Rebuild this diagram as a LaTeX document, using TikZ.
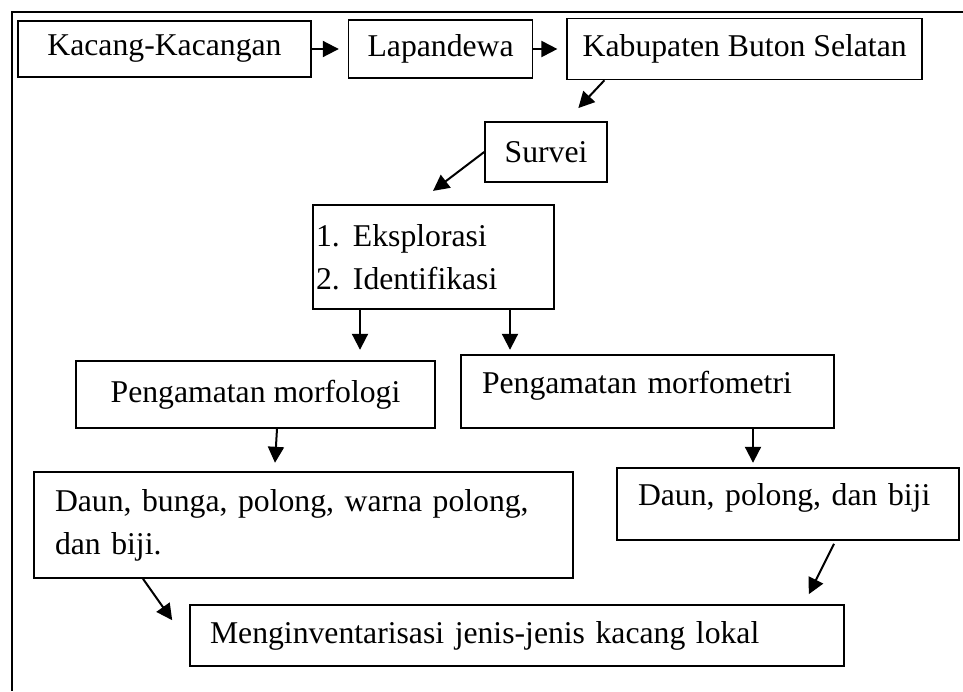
\documentclass[tikz,border=0pt]{standalone}
\usepackage{fontspec}
\setmainfont{Liberation Serif}
\usetikzlibrary{arrows.meta,positioning,calc}

\begin{document}
\begin{tikzpicture}[x=1pt, y=-1pt, >={Triangle[length=16pt,width=16pt]}, node distance=36pt, font=\fontsize{31.7}{43}\selectfont,
    box/.style={draw, line width=1.6pt, inner sep=0pt},
    lbox/.style={box, align=left, inner xsep=21pt},
    arr/.style={->, line width=2pt}]
      \useasboundingbox (0,0) rectangle (963,691);
      \draw[line width=1.6pt] (963,12) -- (12,12) -- (12,691);
      \node[box, minimum width=293pt, minimum height=56pt] (kacang) at (164.5,49) {Kacang-Kacangan};
      \node[box, minimum width=184pt, minimum height=58pt, right=36pt of kacang] (lapandewa) {Lapandewa};
      \node[box, minimum width=355pt, minimum height=61pt, right=33pt of lapandewa] (kabupaten) {Kabupaten Buton Selatan};
      \node[box, minimum width=122pt, minimum height=60pt] (survei) at (546,152) {Survei};
      \node[lbox, inner xsep=3pt, text width=235pt, minimum height=104pt] (eksplorasi) at (433.5,257) {\makebox[37pt][l]{1.}Eksplorasi\\\makebox[37pt][l]{2.}Identifikasi};
      \node[box, minimum width=359pt, minimum height=67pt] (morfologi) at (255.5,394.5) {Pengamatan morfologi};
      \node[lbox, text width=331pt, minimum height=73pt, text depth=19pt] (morfometri) at (647.5,391.5) {Pengamatan morfometri};
      \node[lbox, text width=497pt, minimum height=106pt] (daunA) at (303.5,525) {Daun, bunga, polong, warna polong,\\dan biji.};
      \node[lbox, text width=300pt, minimum height=72pt, text depth=19pt] (daunB) at (788,504) {Daun, polong, dan biji};
      \node[lbox, inner xsep=20pt, text width=614pt, minimum height=61pt] (inventaris) at (517,635.5) {Menginventarisasi jenis-jenis kacang lokal};
      \draw[arr, shorten >=9pt] (kacang) -- (lapandewa);
      \draw[arr, shorten >=9pt] (lapandewa) -- (kabupaten);
      \draw[arr, shorten >=18pt] ($(kabupaten.south west)+(38,0)$) -- ($(survei.north)+(20,0)$);
      \draw[arr, shorten >=22pt] (survei.west) -- ($(eksplorasi.north)+(-18,0)$);
      \draw[arr] ($(eksplorasi.south)+(-73.5,0)$) -- ($(eksplorasi.south)+(-73.5,40)$);
      \draw[arr] ($(eksplorasi.south)+(76.5,0)$) -- ($(eksplorasi.south)+(76.5,40)$);
      \draw[arr] ($(morfologi.south)+(21.5,0)$) -- ($(morfologi.south)+(19.5,34)$);
      \draw[arr] ($(morfometri.south)+(105.5,0)$) -- ($(morfometri.south)+(105.5,34)$);
      \draw[arr] ($(daunA.south)+(-160.5,0)$) -- ($(inventaris.north west)+(-17,16)$);
      \draw[arr] ($(daunB.south)+(46,3)$) -- ($(inventaris.north east)+(-36,-10)$);
    \end{tikzpicture}
\end{document}
